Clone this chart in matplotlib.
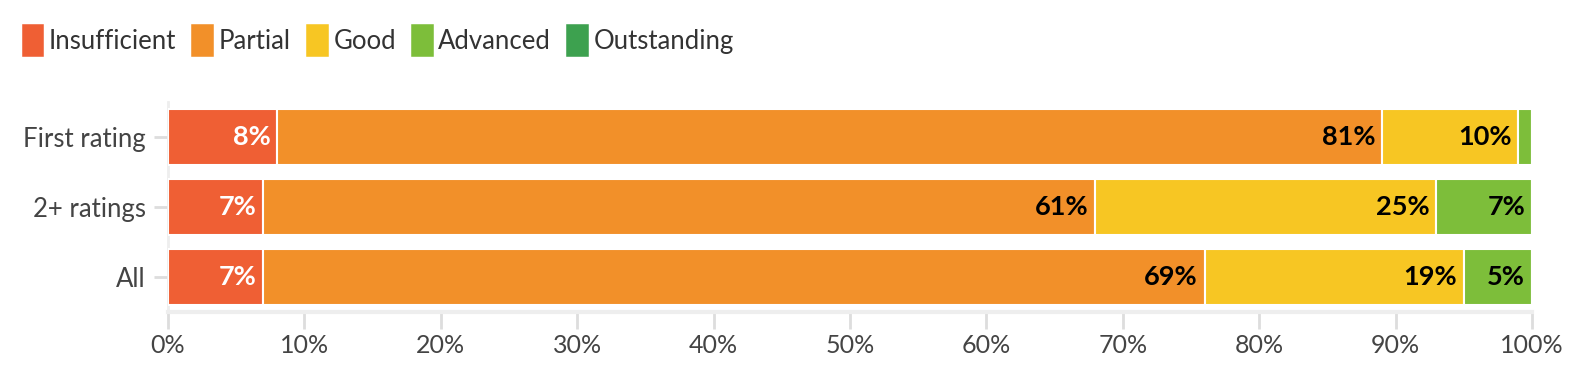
import numpy as np
import matplotlib.pyplot as plt
from matplotlib.patches import Patch

categories = ["First rating", "2+ ratings", "All"]
levels = ["Insufficient", "Partial", "Good", "Advanced", "Outstanding"]
insufficient = [8, 7, 7]
partial = [81, 61, 69]
good = [10, 25, 19]
advanced = [1, 7, 5]
outstanding = [0, 0, 0]
xticks = [0, 10, 20, 30, 40, 50, 60, 70, 80, 90, 100]

colors = ["#EF5F34", "#F29029", "#F7C623", "#7DBE3A", "#3DA14F"]
label_colors = ["white", "black", "black", "black", "black"]

plt.rcParams['font.family'] = ['Source Sans Pro', 'Lato', 'DejaVu Sans']

fig = plt.figure(figsize=(15.88, 3.9), dpi=100)
ax = fig.add_axes([0.1058, 0.2, 0.8589, 0.5385])

series = [insufficient, partial, good, advanced, outstanding]
y = np.arange(len(categories))[::-1]
left = np.zeros(len(categories))
for vals, col, lc in zip(series, colors, label_colors):
    vals = np.array(vals, dtype=float)
    ax.barh(y, vals, left=left, height=0.8, color=col, edgecolor="white",
            linewidth=1.5, zorder=3)
    for yi, v, l in zip(y, vals, left):
        if v >= 3:
            ax.text(l + v - 0.5, yi, f"{v:.0f}%", ha="right", va="center",
                    fontsize=19.5, fontweight="bold", color=lc, zorder=4)
    left += vals

ax.set_xlim(0, 100)
ax.set_ylim(-0.5, 2.5)
ax.set_yticks(y)
ax.set_yticklabels(categories)
ax.set_xticks(xticks)
ax.set_xticklabels([f"{t}%" for t in xticks])
ax.tick_params(axis="both", colors="#dddddd", labelcolor="#444444")
ax.tick_params(axis="x", labelsize=18, length=12, width=2, pad=4)
ax.tick_params(axis="y", labelsize=18.5, length=10, width=2, pad=6)
ax.grid(axis="y", color="#eeeeee", linewidth=2, zorder=0)
for s in ["top", "right"]:
    ax.spines[s].set_visible(False)
ax.spines["bottom"].set_color("#eeeeee")
ax.spines["bottom"].set_linewidth(3)
ax.spines["left"].set_color("#eeeeee")
ax.spines["left"].set_linewidth(2)

handles = [Patch(facecolor=c, edgecolor=c, linewidth=4, joinstyle="round") for c in colors]
fig.legend(handles, levels, loc="upper left", bbox_to_anchor=(0.001, 0.99), ncol=5,
           frameon=False, fontsize=18.5, handlelength=0.65, handleheight=1.25,
           handletextpad=0.3, columnspacing=0.7, labelcolor="#333333")

fig.savefig("out.png", dpi=100)
